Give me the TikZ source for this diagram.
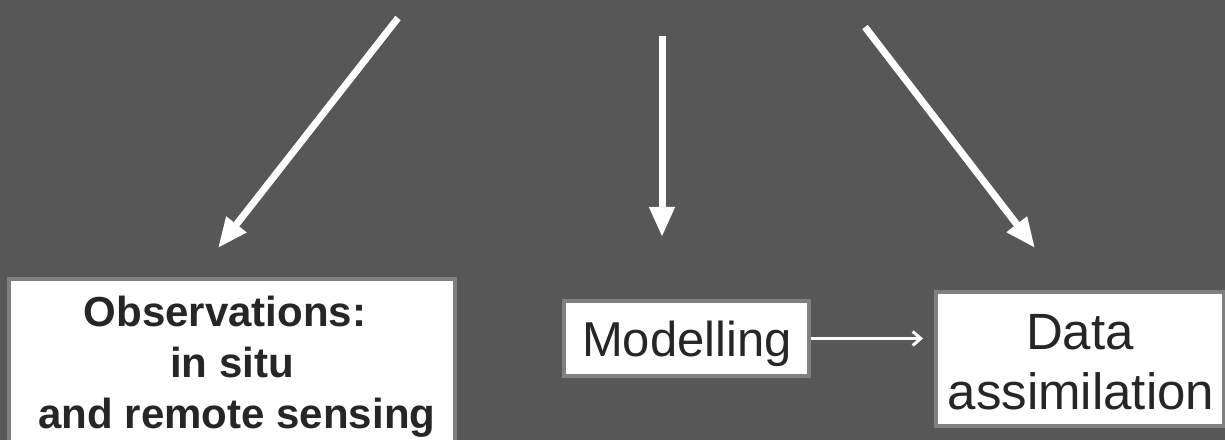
\documentclass[tikz,border=0pt]{standalone}
\usepackage{fontspec}
\setmainfont{Liberation Sans}
\usetikzlibrary{arrows.meta}
\definecolor{bg}{HTML}{575757}
\definecolor{frame}{HTML}{808080}
\definecolor{ink}{HTML}{262626}
\begin{document}
\begin{tikzpicture}[x=1bp,y=-1bp,
  box/.style={draw=frame,fill=white,line width=4bp,rectangle,inner sep=0pt},
  lbl/.style={anchor=base,inner sep=0pt,text=ink},
  bigarrow/.style={white,line width=7bp,-{Triangle[width=24bp,length=30bp]}},
  smallarrow/.style={white,line width=3bp,-{Straight Barb[length=8bp,width=14bp]}}]
\useasboundingbox (0,0) rectangle (1225,440);
\clip (0,0) rectangle (1225,440);
\fill[bg] (0,0) rectangle (1225,440);
% boxes
\node[box,minimum width=446bp,minimum height=191bp] (obs) at (232,374.5) {};
\node[box,minimum width=245bp,minimum height=75bp] (model) at (686.5,338.5) {};
\node[box,minimum width=288bp,minimum height=134bp] (data) at (1080,359) {};
% texts
\node[lbl,font=\fontsize{42bp}{51bp}\selectfont\bfseries] (obs1) at (225,327) {Observations:};
\node[lbl,font=\fontsize{42bp}{51bp}\selectfont\bfseries] (obs2) at (232,378) {in situ};
\node[lbl,font=\fontsize{42bp}{51bp}\selectfont\bfseries] (obs3) at (237,429) {and remote sensing};
\node[lbl,font=\fontsize{49bp}{58bp}\selectfont] (modt) at (687,357) {Modelling};
\node[lbl,font=\fontsize{51bp}{60bp}\selectfont] (data1) at (1080,350) {Data};
\node[lbl,font=\fontsize{51bp}{60bp}\selectfont] (data2) at (1081,410) {assimilation};
% arrow endpoints
\coordinate (s1) at (398,18);
\coordinate (e1) at (218,248);
\coordinate (s2) at (662,36);
\coordinate (e2) at (662,237);
\coordinate (s3) at (865,27);
\coordinate (e3) at (1035,248);
\draw[bigarrow] (s1) -- (e1);
\draw[bigarrow] (s2) -- (e2);
\draw[bigarrow] (s3) -- (e3);
\draw[smallarrow,shorten >=11bp] (model.east) -- (model.east -| data.west);
\end{tikzpicture}
\end{document}
